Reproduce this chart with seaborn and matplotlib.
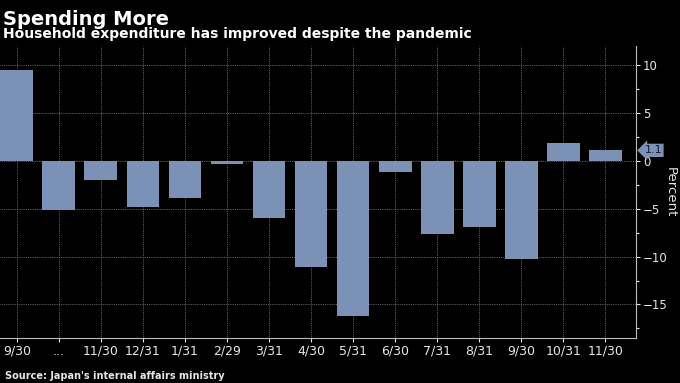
import matplotlib
matplotlib.use("Agg")
import matplotlib.pyplot as plt
import numpy as np
import pandas as pd
import seaborn as sns
from matplotlib.ticker import MultipleLocator

# 数据：家庭支出同比变化（%）
months = ["2019-09", "2019-10", "2019-11", "2019-12", "2020-01", "2020-02", "2020-03",
          "2020-04", "2020-05", "2020-06", "2020-07", "2020-08", "2020-09", "2020-10", "2020-11"]
tick_labels = ["9/30", "...", "11/30", "12/31", "1/31", "2/29", "3/31",
               "4/30", "5/31", "6/30", "7/31", "8/31", "9/30", "10/31", "11/30"]
change = [9.5, -5.1, -2.0, -4.8, -3.9, -0.3, -6.0,
          -11.1, -16.2, -1.2, -7.6, -6.9, -10.2, 1.9, 1.1]

df = pd.DataFrame({"month": months, "change": change})

bg = "black"
bar_color = "#7b92b6"
txt = "#e6e6e6"
grid_c = "#7a7a7a"

sns.set_style("dark")
plt.rcParams['font.family'] = ['DejaVu Sans']

fig = plt.figure(figsize=(6.8, 3.83), dpi=100, facecolor=bg)
ax = fig.add_axes([0, 1 - 338 / 383, 636 / 680, (338 - 46) / 383])
ax.set_facecolor(bg)

sns.barplot(data=df, x="month", y="change", color=bar_color, saturation=1,
            width=0.78, ax=ax, zorder=3, edgecolor="none", linewidth=0)

ax.set_xlim(-0.4, 14.73)
ax.set_ylim(-18.5, 12)

# 右侧 y 轴
ax.yaxis.tick_right()
ax.yaxis.set_major_locator(MultipleLocator(5))
ax.yaxis.set_minor_locator(MultipleLocator(2.5))
ax.set_ylabel("")
ax.set_xlabel("")
ax.set_xticks(range(len(tick_labels)))
ax.set_xticklabels(tick_labels)

ax.tick_params(axis="y", which="major", colors=txt, labelsize=8.5, length=3, width=0.8,
               direction="out", pad=2, right=True, left=False)
ax.tick_params(axis="y", which="minor", colors=txt, length=2, width=0.8, right=True, left=False)
ax.tick_params(axis="x", colors=txt, labelsize=9, length=3, width=0.8, pad=2, bottom=True)

ax.grid(True, which="major", color=grid_c, linestyle=(0, (1, 1.2)), linewidth=0.6, zorder=0)
for s in ["top", "left"]:
    ax.spines[s].set_visible(False)
for s in ["right", "bottom"]:
    ax.spines[s].set_visible(True)
    ax.spines[s].set_color("#bdbdbd")
    ax.spines[s].set_linewidth(0.8)

# 最新值标签
ax.annotate(f"{change[-1]:.1f}", xy=(1.0, change[-1]), xycoords=("axes fraction", "data"),
            xytext=(6, 0), textcoords="offset points", ha="left", va="center",
            fontsize=8, color="#1a1a2e",
            bbox=dict(boxstyle="larrow,pad=0.15", fc=bar_color, ec="none"))

# 右侧单位标签
fig.text(670 / 680, 1 - 192 / 383, "Percent", color=txt, fontsize=9.5, rotation=270,
         ha="center", va="center")

# 标题与来源
fig.text(0.004, 0.975, "Spending More", color="white", fontsize=14, fontweight="bold",
         ha="left", va="top")
fig.text(0.004, 0.93, "Household expenditure has improved despite the pandemic", color="white",
         fontsize=10, fontweight="bold", ha="left", va="top")
fig.text(0.008, 0.004, "Source: Japan's internal affairs ministry", color=txt,
         fontsize=7, fontweight="bold", ha="left", va="bottom")

fig.savefig("out.png", dpi=100, facecolor=bg)
